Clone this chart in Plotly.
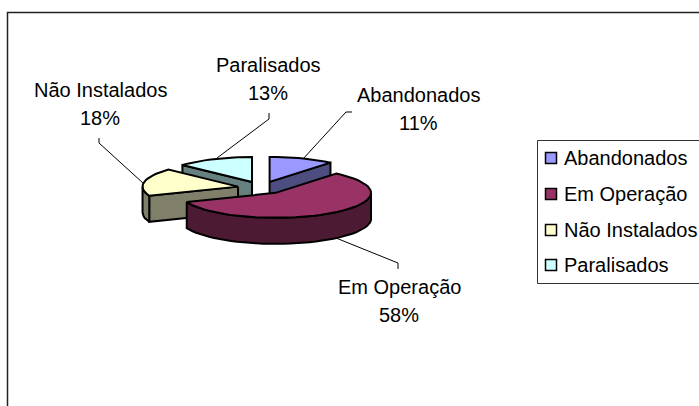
import math
import plotly.graph_objects as go

categories = ["Abandonados", "Em Operação", "Não Instalados", "Paralisados"]
values = [11, 58, 18, 13]
top_colors = ["#9999FF", "#993366", "#FFFFCC", "#CCFFFF"]
side_colors = ["#4D4D80", "#4D1A33", "#80806A", "#668080"]

# pie geometry, in page pixels
CX, CY, RX, RY, DEPTH, EXPLODE = 261.5, 187.8, 95.5, 25, 26, 0.25
OUTLINE = dict(color="#000000", width=2)

# label placement, in page pixels
label_pos = [(418, 95), (399, 287), (100, 90), (268, 65)]
leaders = [
    [(303, 159), (346, 112), (352, 112)],
    [(336, 238), (398, 263), (398, 269)],
    [(143, 183), (99, 143), (99, 138)],
    [(217, 158), (269, 119), (269, 113)],
]
legend_y = [158, 194, 230, 265]

fig = go.Figure()


def point(c, a, dy=0):
    r = math.radians(a)
    return c[0] + RX * math.sin(r), c[1] - RY * math.cos(r) + dy


def poly(pts, color):
    xs = [p[0] for p in pts] + [pts[0][0]]
    ys = [p[1] for p in pts] + [pts[0][1]]
    fig.add_trace(go.Scatter(x=xs, y=ys, mode="lines", fill="toself", fillcolor=color,
                             line=OUTLINE, hoverinfo="skip", showlegend=False))


def arc(c, a0, a1, dy=0):
    n = max(2, int(abs(a1 - a0) / 4) + 1)
    return [point(c, a0 + (a1 - a0) * i / (n - 1), dy) for i in range(n)]


total = sum(values)
spans = []
acc = 0
for v in values:
    spans.append((acc * 360 / total, (acc + v) * 360 / total))
    acc += v

for i in [3, 0, 2, 1]:
    a0, a1 = spans[i]
    mid = math.radians((a0 + a1) / 2)
    c = (CX + EXPLODE * RX * math.sin(mid), CY - EXPLODE * RY * math.cos(mid))
    side = side_colors[i]
    if math.sin(math.radians(a0)) < -1e-6:
        e = point(c, a0)
        poly([c, e, (e[0], e[1] + DEPTH), (c[0], c[1] + DEPTH)], side)
    if math.sin(math.radians(a1)) > 1e-6:
        e = point(c, a1)
        poly([c, e, (e[0], e[1] + DEPTH), (c[0], c[1] + DEPTH)], side)
    r0, r1 = max(a0, 90), min(a1, 270)
    if r0 < r1:
        poly(arc(c, r0, r1) + arc(c, r1, r0, DEPTH), side)
    poly([c] + arc(c, a0, a1), top_colors[i])

for line in leaders:
    fig.add_trace(go.Scatter(x=[p[0] for p in line], y=[p[1] for p in line], mode="lines",
                             line=dict(color="#000000", width=1), hoverinfo="skip", showlegend=False))

FONT = dict(family="Liberation Sans, Arial, sans-serif", size=20, color="#000000")
anns = []
for cat, v, (x, y) in zip(categories, values, label_pos):
    anns.append(dict(x=x, y=y, text=cat, showarrow=False, font=FONT, xanchor="center", yanchor="middle"))
    anns.append(dict(x=x, y=y + 28, text=f"{v}%", showarrow=False, font=FONT, xanchor="center", yanchor="middle"))

for cat, col, y in zip(categories, top_colors, legend_y):
    fig.add_trace(go.Scatter(x=[551], y=[y], mode="markers", hoverinfo="skip", showlegend=False,
                             marker=dict(symbol="square", size=11, color=col,
                                         line=dict(color="#000000", width=1.5))))
    anns.append(dict(x=562, y=y, text=cat, showarrow=False, font=FONT, xanchor="left", yanchor="middle"))

shapes = [
    dict(type="rect", x0=7.5, y0=12.5, x1=720, y1=430, line=dict(color="#222222", width=1.5), layer="below"),
    dict(type="rect", x0=537.5, y0=140.5, x1=720, y1=283.5, line=dict(color="#333333", width=1), layer="below"),
]

fig.update_layout(
    width=699, height=406, autosize=False, margin=dict(l=0, r=0, t=0, b=0),
    paper_bgcolor="#ffffff", plot_bgcolor="#ffffff", showlegend=False,
    xaxis=dict(range=[0, 699], visible=False, fixedrange=True),
    yaxis=dict(range=[406, 0], visible=False, fixedrange=True),
    annotations=anns, shapes=shapes,
)
fig.write_html("out.html", config={"displayModeBar": False},
               post_script="document.body.style.margin='0';document.documentElement.style.overflow='hidden';")
